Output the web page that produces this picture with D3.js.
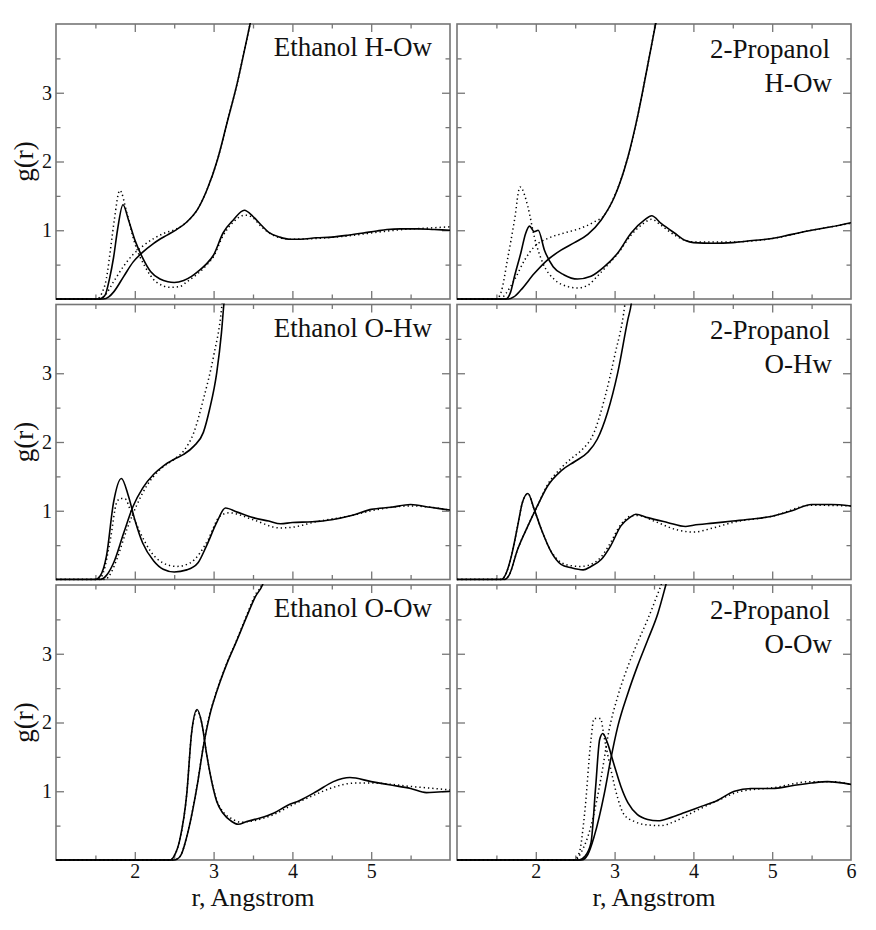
<!DOCTYPE html>
<html><head><meta charset="utf-8">
<script src="https://cdn.jsdelivr.net/npm/d3@7"></script>
<style>body{margin:0;background:#fff}svg{display:block}
svg text{font-family:"Liberation Serif","DejaVu Serif",serif !important;}</style>
</head><body><svg id="c" width="876" height="930"></svg>
<script>
// ---- data ----
const panelTitles = [["Ethanol H-Ow"],["2-Propanol","H-Ow"],["Ethanol O-Hw"],["2-Propanol","O-Hw"],["Ethanol O-Ow"],["2-Propanol","O-Ow"]];
const xTickValues = [2,3,4,5,6];
const yTickValues = [1,2,3];
const xLabel = "r, Angstrom";
const yLabel = "g(r)";

// Ethanol H-Ow
const p1_g_solid = [[1.0,0],[1.55,0],[1.62,0.05],[1.68,0.3],[1.73,0.6],[1.78,1.0],[1.85,1.37],[1.92,1.15],[2.0,0.86],[2.09,0.62],[2.2,0.40],[2.32,0.29],[2.42,0.25],[2.5,0.24],[2.62,0.27],[2.72,0.33],[2.8,0.40],[2.9,0.5],[3.0,0.64],[3.12,0.96],[3.25,1.15],[3.39,1.29],[3.5,1.20],[3.6,1.08],[3.7,0.97],[3.84,0.90],[3.97,0.87],[4.1,0.87],[4.3,0.89],[4.5,0.9],[4.72,0.93],[4.9,0.96],[5.07,0.99],[5.2,1.01],[5.37,1.02],[5.6,1.02],[5.8,1.01],[6.0,1.0]];
const p1_g_dot = [[1.0,0],[1.52,0],[1.58,0.08],[1.64,0.3],[1.7,0.8],[1.74,1.15],[1.81,1.58],[1.9,1.25],[2.0,0.81],[2.13,0.47],[2.27,0.25],[2.45,0.17],[2.57,0.18],[2.66,0.25],[2.8,0.37],[2.9,0.48],[3.0,0.62],[3.12,0.92],[3.25,1.12],[3.4,1.22],[3.5,1.18],[3.6,1.06],[3.72,0.95],[3.84,0.89],[3.97,0.87],[4.3,0.88],[4.72,0.92],[5.07,0.97],[5.4,1.01],[5.7,1.03],[6.0,1.05]];
const p1_n_solid = [[1.0,0],[1.6,0],[1.67,0.03],[1.73,0.1],[1.86,0.33],[1.98,0.54],[2.09,0.67],[2.24,0.81],[2.41,0.93],[2.53,1.01],[2.66,1.12],[2.8,1.31],[2.92,1.6],[3.05,2.03],[3.17,2.56],[3.3,3.14],[3.42,3.77],[3.5,4.2]];
const p1_n_dot = [[1.0,0],[1.55,0],[1.62,0.05],[1.73,0.25],[1.86,0.48],[1.98,0.65],[2.09,0.76],[2.24,0.88],[2.38,0.96],[2.53,1.02],[2.66,1.12],[2.8,1.31],[2.92,1.6],[3.05,2.03],[3.17,2.56],[3.3,3.14],[3.42,3.77],[3.5,4.2]];

// 2-Propanol H-Ow
const p2_g_solid = [[1.0,0],[1.62,0],[1.68,0.1],[1.73,0.33],[1.81,0.67],[1.87,0.95],[1.92,1.06],[1.98,0.98],[2.03,1.0],[2.11,0.71],[2.22,0.47],[2.36,0.35],[2.53,0.29],[2.7,0.33],[2.87,0.47],[3.04,0.67],[3.21,0.96],[3.38,1.15],[3.47,1.21],[3.59,1.10],[3.76,0.96],[3.9,0.85],[4.0,0.82],[4.25,0.81],[4.5,0.82],[4.75,0.85],[5.0,0.88],[5.25,0.94],[5.5,1.0],[5.75,1.05],[6.0,1.11]];
const p2_g_dot = [[1.0,0],[1.5,0],[1.56,0.1],[1.64,0.57],[1.73,1.15],[1.8,1.63],[1.9,1.34],[1.98,0.91],[2.09,0.52],[2.24,0.28],[2.41,0.18],[2.53,0.16],[2.66,0.2],[2.78,0.33],[2.9,0.48],[3.04,0.66],[3.21,0.93],[3.38,1.11],[3.47,1.16],[3.59,1.07],[3.76,0.93],[3.9,0.85],[4.0,0.83],[4.5,0.83],[5.0,0.88],[5.5,1.0],[6.0,1.1]];
const p2_n_solid = [[1.0,0],[1.65,0],[1.72,0.03],[1.81,0.13],[1.98,0.37],[2.15,0.57],[2.32,0.71],[2.49,0.82],[2.66,0.94],[2.83,1.15],[3.0,1.49],[3.17,2.07],[3.3,2.70],[3.42,3.4],[3.52,4.0],[3.57,4.3]];
const p2_n_dot = [[1.0,0],[1.55,0],[1.62,0.08],[1.73,0.28],[1.86,0.57],[1.98,0.76],[2.15,0.88],[2.36,0.96],[2.57,1.03],[2.74,1.12],[2.87,1.22],[3.0,1.5],[3.17,2.07],[3.3,2.70],[3.42,3.4],[3.52,4.0],[3.57,4.3]];

// Ethanol O-Hw
const p3_g_solid = [[1.0,0],[1.5,0],[1.56,0.05],[1.64,0.34],[1.73,1.12],[1.83,1.47],[1.92,1.21],[2.0,0.87],[2.1,0.53],[2.24,0.27],[2.36,0.15],[2.5,0.11],[2.66,0.14],[2.8,0.24],[2.91,0.49],[3.04,0.83],[3.15,1.04],[3.3,0.98],[3.5,0.90],[3.7,0.85],[3.85,0.81],[4.0,0.83],[4.25,0.84],[4.5,0.87],[4.75,0.93],[5.0,1.02],[5.25,1.05],[5.5,1.09],[5.75,1.05],[6.0,1.01]];
const p3_g_dot = [[1.0,0],[1.54,0],[1.6,0.1],[1.69,0.58],[1.77,1.12],[1.82,1.18],[1.88,1.17],[1.94,1.02],[2.07,0.68],[2.2,0.41],[2.36,0.24],[2.53,0.19],[2.7,0.24],[2.83,0.39],[2.93,0.58],[3.08,0.92],[3.2,0.97],[3.5,0.87],[3.84,0.75],[4.0,0.76],[4.3,0.84],[4.75,0.93],[5.0,1.0],[5.5,1.07],[6.0,1.01]];
const p3_n_solid = [[1.0,0],[1.56,0],[1.64,0.06],[1.73,0.24],[1.86,0.68],[1.98,1.07],[2.1,1.33],[2.24,1.53],[2.36,1.65],[2.5,1.75],[2.62,1.82],[2.75,1.94],[2.87,2.14],[2.95,2.48],[3.04,3.01],[3.1,3.59],[3.13,4.0],[3.16,4.3]];
const p3_n_dot = [[1.0,0],[1.62,0],[1.7,0.1],[1.77,0.29],[1.9,0.73],[2.02,1.07],[2.15,1.36],[2.32,1.6],[2.5,1.75],[2.62,1.87],[2.75,2.14],[2.87,2.62],[3.0,3.25],[3.1,3.93],[3.13,4.3]];

// 2-Propanol O-Hw
const p4_g_solid = [[1.0,0],[1.56,0],[1.62,0.08],[1.69,0.34],[1.77,0.78],[1.83,1.12],[1.9,1.25],[1.98,1.02],[2.07,0.73],[2.2,0.39],[2.32,0.22],[2.45,0.17],[2.6,0.14],[2.7,0.19],[2.83,0.29],[2.95,0.49],[3.08,0.78],[3.19,0.90],[3.27,0.95],[3.42,0.90],[3.67,0.83],[3.9,0.77],[4.0,0.79],[4.25,0.82],[4.5,0.85],[4.75,0.88],[5.0,0.92],[5.25,1.0],[5.5,1.09],[5.75,1.09],[6.0,1.07]];
const p4_g_dot = [[1.0,0],[1.56,0],[1.62,0.08],[1.69,0.34],[1.77,0.78],[1.83,1.12],[1.9,1.25],[1.98,1.02],[2.07,0.73],[2.2,0.40],[2.32,0.25],[2.45,0.2],[2.57,0.19],[2.7,0.22],[2.83,0.33],[2.92,0.48],[3.08,0.8],[3.2,0.92],[3.3,0.93],[3.5,0.85],[3.8,0.72],[4.0,0.69],[4.25,0.75],[4.5,0.83],[5.0,0.92],[5.5,1.08],[6.0,1.07]];
const p4_n_solid = [[1.0,0],[1.6,0],[1.66,0.06],[1.77,0.44],[1.9,0.78],[2.02,1.07],[2.15,1.36],[2.32,1.58],[2.5,1.72],[2.66,1.85],[2.78,2.04],[2.91,2.43],[3.04,3.01],[3.17,3.79],[3.21,4.0],[3.24,4.3]];
const p4_n_dot = [[1.0,0],[1.6,0],[1.66,0.06],[1.77,0.44],[1.9,0.78],[2.02,1.07],[2.15,1.38],[2.32,1.62],[2.45,1.76],[2.57,1.87],[2.74,2.14],[2.87,2.62],[3.0,3.25],[3.13,4.0],[3.16,4.3]];

// Ethanol O-Ow
const p5_g_solid = [[1.0,0],[2.45,0],[2.5,0.06],[2.57,0.29],[2.66,0.97],[2.72,1.84],[2.79,2.19],[2.85,1.99],[2.91,1.55],[2.98,1.12],[3.04,0.85],[3.12,0.68],[3.23,0.56],[3.31,0.52],[3.42,0.56],[3.59,0.61],[3.76,0.68],[3.93,0.79],[4.1,0.87],[4.31,1.0],[4.52,1.14],[4.73,1.2],[5.0,1.14],[5.25,1.09],[5.5,1.04],[5.7,0.98],[5.85,0.99],[6.0,1.0]];
const p5_g_dot = [[1.0,0],[2.45,0],[2.5,0.06],[2.57,0.29],[2.66,0.97],[2.72,1.84],[2.79,2.17],[2.85,1.99],[2.91,1.55],[2.98,1.12],[3.04,0.87],[3.12,0.7],[3.23,0.6],[3.35,0.55],[3.5,0.57],[3.76,0.66],[4.0,0.8],[4.25,0.93],[4.5,1.05],[4.8,1.12],[5.0,1.12],[5.5,1.07],[6.0,1.02]];
const p5_n_solid = [[1.0,0],[2.5,0],[2.58,0.06],[2.66,0.34],[2.79,1.07],[2.87,1.65],[2.95,2.1],[3.04,2.45],[3.17,2.86],[3.29,3.18],[3.42,3.54],[3.53,3.83],[3.62,4.0],[3.7,4.3]];
const p5_n_dot = [[1.0,0],[2.5,0],[2.58,0.06],[2.66,0.35],[2.79,1.08],[2.87,1.66],[2.95,2.11],[3.04,2.46],[3.17,2.87],[3.29,3.19],[3.42,3.56],[3.53,3.86],[3.61,4.0],[3.69,4.3]];

// 2-Propanol O-Ow
const p6_g_solid = [[1.0,0],[2.55,0],[2.62,0.05],[2.7,0.25],[2.76,1.07],[2.81,1.75],[2.85,1.84],[2.91,1.7],[3.0,1.36],[3.08,1.07],[3.17,0.83],[3.29,0.66],[3.42,0.59],[3.55,0.57],[3.72,0.62],[3.89,0.69],[4.1,0.78],[4.31,0.87],[4.52,1.0],[4.73,1.04],[5.0,1.04],[5.25,1.08],[5.5,1.12],[5.7,1.14],[6.0,1.1]];
const p6_g_dot = [[1.0,0],[2.48,0],[2.55,0.1],[2.62,0.68],[2.7,1.75],[2.74,2.06],[2.82,2.06],[2.87,1.77],[2.95,1.33],[3.04,0.9],[3.12,0.66],[3.25,0.56],[3.42,0.51],[3.59,0.5],[3.76,0.56],[3.97,0.68],[4.3,0.86],[4.6,1.0],[5.0,1.05],[5.5,1.14],[5.75,1.14],[6.0,1.1]];
const p6_n_solid = [[1.0,0],[2.58,0],[2.66,0.08],[2.74,0.34],[2.87,0.97],[2.95,1.46],[3.04,1.94],[3.17,2.43],[3.29,2.82],[3.42,3.2],[3.55,3.59],[3.65,4.0],[3.72,4.3]];
const p6_n_dot = [[1.0,0],[2.5,0],[2.58,0.12],[2.7,0.49],[2.83,1.21],[2.93,1.89],[3.04,2.38],[3.17,2.82],[3.29,3.16],[3.42,3.5],[3.55,3.88],[3.59,4.0],[3.65,4.3]];

const panelSeries = [
  [p1_g_solid,p1_g_dot,p1_n_solid,p1_n_dot],
  [p2_g_solid,p2_g_dot,p2_n_solid,p2_n_dot],
  [p3_g_solid,p3_g_dot,p3_n_solid,p3_n_dot],
  [p4_g_solid,p4_g_dot,p4_n_solid,p4_n_dot],
  [p5_g_solid,p5_g_dot,p5_n_solid,p5_n_dot],
  [p6_g_solid,p6_g_dot,p6_n_solid,p6_n_dot]
];
const seriesDotted = [false,true,false,true];

// ---- layout ----
const colX = [[56,450],[457,851]];
const rowY = [[24,299],[304.5,579.5],[585,860]];
const FONT = "Liberation Serif, DejaVu Serif, serif";
const frameColor = "#767676";

const svg = d3.select("#c");
svg.append("rect").attr("width",876).attr("height",930).attr("fill","#fff");

panelSeries.forEach((series,i)=>{
  const col = i%2, row = Math.floor(i/2);
  const [x0,x1] = colX[col], [y0,y1] = rowY[row];
  const x = d3.scaleLinear().domain([1,6]).range([x0,x1]);
  const y = d3.scaleLinear().domain([0,4]).range([y1,y0]);
  const g = svg.append("g");
  const clipId = "clip"+i;
  svg.append("clipPath").attr("id",clipId).append("rect")
    .attr("x",x0).attr("y",y0-1).attr("width",x1-x0).attr("height",y1-y0+2);

  g.append("rect").attr("x",x0).attr("y",y0).attr("width",x1-x0).attr("height",y1-y0)
    .attr("fill","none").attr("stroke",frameColor).attr("stroke-width",1.6);

  const minorX = d3.range(1.5,6,0.5).filter(v=>v%1!==0);
  const majorX = d3.range(2,6,1);
  const minorY = [0.5,1.5,2.5,3.5];
  const axes = [
    [d3.axisBottom(x).tickValues(majorX).tickSize(-8), `translate(0,${y1})`],
    [d3.axisBottom(x).tickValues(minorX).tickSize(-4.5), `translate(0,${y1})`],
    [d3.axisTop(x).tickValues(majorX).tickSize(-8), `translate(0,${y0})`],
    [d3.axisTop(x).tickValues(minorX).tickSize(-4.5), `translate(0,${y0})`],
    [d3.axisLeft(y).tickValues(yTickValues).tickSize(-8), `translate(${x0},0)`],
    [d3.axisLeft(y).tickValues(minorY).tickSize(-4.5), `translate(${x0},0)`],
    [d3.axisRight(y).tickValues(yTickValues).tickSize(-8), `translate(${x1},0)`],
    [d3.axisRight(y).tickValues(minorY).tickSize(-4.5), `translate(${x1},0)`]
  ];
  axes.forEach(([ax,tr])=>{
    const a = g.append("g").attr("transform",tr).call(ax.tickFormat(""));
    a.select(".domain").remove();
    a.selectAll("text").remove();
    a.selectAll(".tick line").attr("stroke",frameColor).attr("stroke-width",1.3);
  });

  if(col===0){
    const a = g.append("g").attr("transform",`translate(${x0},0)`)
      .call(d3.axisLeft(y).tickValues(yTickValues).tickSize(0).tickPadding(4).tickFormat(d3.format("d")));
    a.attr("font-family",FONT);
    a.select(".domain").remove();
    a.selectAll("text").attr("font-family",FONT).attr("font-size",20).attr("fill","#111");
    g.append("text").attr("transform",`translate(${x0-23},${(y0+y1)/2}) rotate(-90)`)
      .attr("text-anchor","middle").attr("font-family",FONT).attr("font-size",27).attr("fill","#111").text(yLabel);
  }
  if(row===2){
    const vals = col===0 ? xTickValues.filter(v=>v<6) : xTickValues;
    const a = g.append("g").attr("transform",`translate(0,${y1})`)
      .call(d3.axisBottom(x).tickValues(vals).tickSize(0).tickPadding(4).tickFormat(d3.format("d")));
    a.attr("font-family",FONT);
    a.select(".domain").remove();
    a.selectAll("text").attr("font-family",FONT).attr("font-size",20).attr("fill","#111");
    g.append("text").attr("x",(x0+x1)/2).attr("y",y1+46).attr("text-anchor","middle")
      .attr("font-family",FONT).attr("font-size",26).attr("fill","#111").text(xLabel);
  }

  const line = d3.line().x(d=>x(d[0])).y(d=>y(d[1])).curve(d3.curveMonotoneX);
  const cg = g.append("g").attr("clip-path",`url(#${clipId})`);
  series.forEach((s,k)=>{
    const p = cg.append("path").attr("d",line(s)).attr("fill","none").attr("stroke","#000");
    if(seriesDotted[k]) p.attr("stroke-width",1.5).attr("stroke-dasharray","1.3,3").attr("stroke-linecap","butt");
    else p.attr("stroke-width",1.6).attr("stroke-linejoin","round");
  });

  const lines = panelTitles[i];
  const t = g.append("text").attr("text-anchor","end").attr("font-family",FONT).attr("font-size",27).attr("fill","#111");
  if(lines.length===1){
    t.append("tspan").attr("x",x1-18).attr("y",y0+32).text(lines[0]);
  } else {
    t.append("tspan").attr("x",x1-21).attr("y",y0+34).text(lines[0]);
    t.append("tspan").attr("x",x1-19).attr("y",y0+68).text(lines[1]);
  }
});
</script></body></html>
